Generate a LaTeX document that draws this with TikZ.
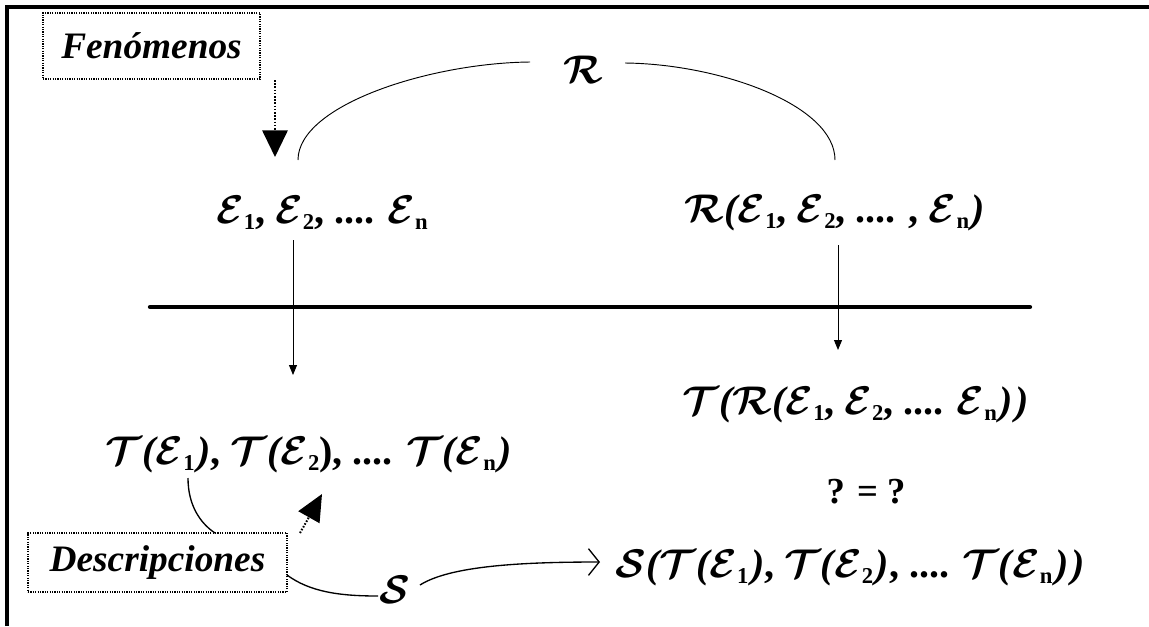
\documentclass[tikz,border=0pt]{standalone}
\usepackage{fix-cm}
\usepackage{fontspec}
\setmainfont{Liberation Serif}
\usetikzlibrary{arrows.meta}
\newcommand{\scr}[1]{{\boldmath$\mathcal{#1}$}}
\newcommand{\sbs}[1]{\raisebox{-0.3ex}{\fontsize{17}{17}\selectfont\bfseries #1}}
\newcommand{\myLP}{{\bfseries\itshape(}}
\newcommand{\myRP}{{\kern2pt\bfseries\itshape)}}
\tikzset{
  lbl/.style={font=\fontsize{28}{30}\selectfont\bfseries\itshape},
  dotbox/.style={draw, line width=0.9pt, dash pattern=on 0.9pt off 0.9pt, inner sep=0pt},
  expr/.style={font=\fontsize{30}{34}\selectfont\bfseries, inner sep=0pt},
  arr/.style={line width=0.7pt, -{Triangle[length=7.5pt,width=6pt]}},
  bigdot/.style={line width=1.5pt, dash pattern=on 1.2pt off 1.2pt, -{Triangle[length=20pt,width=19pt]}},
  thin/.style={line width=0.7pt}
}
\begin{document}
\begin{tikzpicture}[x=0.75pt,y=-0.75pt]
\useasboundingbox (0,0) rectangle (1149,626);
% frame
\draw[line width=2.4pt] (7,626) -- (7,7) -- (1149,7);
% boxes
\node[dotbox, lbl, minimum width=162.75pt, minimum height=49.5pt] (fen) at (151.5,46) {Fenómenos};
\node[dotbox, lbl, minimum width=194.25pt, minimum height=44.25pt] (des) at (157.5,562.5) {Descripciones};
% expressions
\node[expr] (E) at (322,213) {\scr{E}\sbs{1}, \scr{E}\sbs{2}, .... \scr{E}\sbs{n}};
\node[expr] (RE) at (835,213) {\scr{R}\myLP\scr{E}\sbs{1}, \scr{E}\sbs{2}, .... , \scr{E}\sbs{n}\myRP};
\node[expr] (TR) at (856,405) {\scr{T}\myLP\scr{R}\myLP\scr{E}\sbs{1}, \scr{E}\sbs{2}, .... \scr{E}\sbs{n}\myRP\myRP};
\node[expr] (TE) at (309,455) {\scr{T}\myLP\scr{E}\sbs{1}\myRP, \scr{T}\myLP\scr{E}\sbs{2}), .... \scr{T}\myLP\scr{E}\sbs{n}\myRP};
\node[font=\fontsize{27.5}{30}\selectfont\bfseries, inner sep=0pt] (eq) at (866,492) {? = ?};
\node[expr] (ST) at (850,568) {\scr{S}\myLP\scr{T}\myLP\scr{E}\sbs{1}\myRP, \scr{T}\myLP\scr{E}\sbs{2}\myRP, .... \scr{T}\myLP\scr{E}\sbs{n}\myRP\myRP};
\node[expr] (S) at (395,590) {\scr{S}};
\node[expr] (R) at (583,70) {\scr{R}};
% coordinates
\coordinate (fa) at (275,80);
\coordinate (fb) at (275,157);
\coordinate (aL) at (298,160);
\coordinate (aLe) at (530,62);
\coordinate (aRs) at (625,63);
\coordinate (aR) at (835,160);
\coordinate (l1) at (293,240);
\coordinate (l2) at (293,375);
\coordinate (r1) at (838,245);
\coordinate (r2) at (838,350);
\coordinate (h1) at (150,307);
\coordinate (h2) at (1030,307);
\coordinate (c1) at (188,478);
\coordinate (c2) at (215,533);
\coordinate (d1) at (300,533);
\coordinate (d2) at (322,494);
\coordinate (s1) at (287,575);
\coordinate (s2) at (378,596);
\coordinate (s3) at (420,585);
\coordinate (s4) at (600,562);
% connectors
\draw[bigdot] (fa) -- (fb);
\draw[thin] (aL) .. controls (298,105) and (430,63) .. (aLe);
\draw[thin] (aRs) .. controls (720,64) and (835,105) .. (aR);
\draw[arr] (l1) -- (l2);
\draw[arr] (r1) -- (r2);
\draw[line width=3.2pt, line cap=round] (h1) -- (h2);
\draw[line width=1pt] (c1) .. controls (188,505) and (200,523) .. (c2);
\draw[line width=1.5pt, dash pattern=on 1.2pt off 1.2pt, -{Triangle[length=20pt,width=18pt]}] (d1) -- (d2);
\draw[line width=1pt] (s1) .. controls (310,592) and (340,596) .. (s2);
\draw[line width=1pt, -{Straight Barb[length=8pt,width=20pt,line width=1pt]}] (s3) .. controls (450,566) and (520,562) .. (s4);
\end{tikzpicture}
\end{document}
